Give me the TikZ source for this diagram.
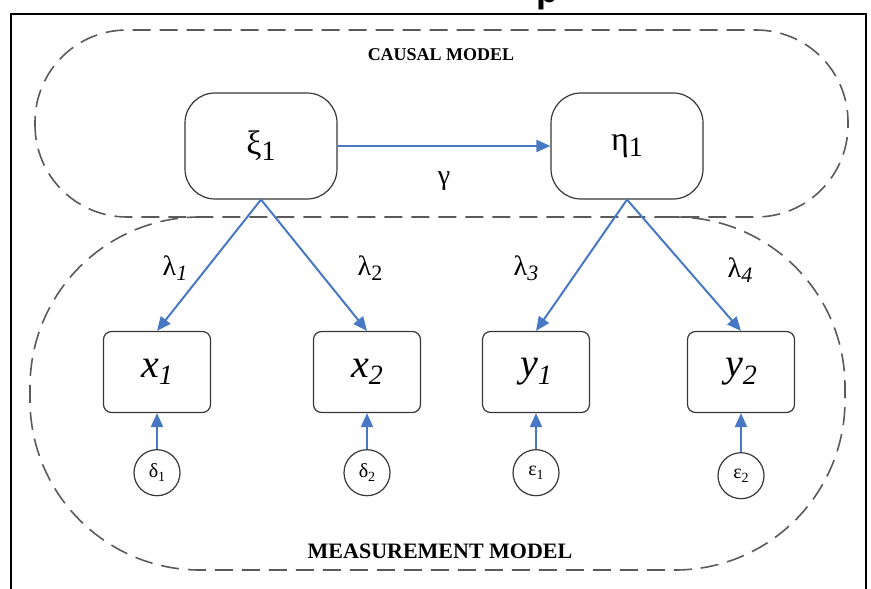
\documentclass[tikz,border=0pt]{standalone}
\usepackage{fontspec}
\setmainfont{Liberation Serif}
\setsansfont{Liberation Sans}
\usetikzlibrary{arrows.meta,positioning}
\definecolor{pathblue}{RGB}{72,120,196}
\definecolor{dashgray}{RGB}{90,90,90}
\definecolor{edgegray}{RGB}{55,55,55}
\newcommand{\idx}[2]{\raisebox{-0.4ex}{\fontsize{#1}{#1}\selectfont #2}}

\begin{document}
\begin{tikzpicture}[x=0.5pt,y=-0.5pt,>=Latex,
  every node/.style={align=center},
  latent/.style={draw=edgegray,line width=0.6pt,rounded corners=15pt,minimum width=76pt,minimum height=53pt,font=\fontsize{17pt}{17pt}\selectfont},
  obs/.style={draw=edgegray,line width=0.6pt,rounded corners=4pt,minimum width=53.5pt,minimum height=40.5pt,font=\fontsize{20pt}{20pt}\selectfont},
  errc/.style={circle,draw=edgegray,line width=0.6pt,minimum size=23pt,inner sep=0pt,font=\fontsize{10pt}{10pt}\selectfont},
  flow/.style={draw=pathblue,line width=1pt,-{Triangle[length=7pt,width=6pt]}},
  region/.style={draw=dashgray,line width=0.8pt,dash pattern=on 9pt off 4.5pt},
  wt/.style={font=\fontsize{14pt}{14pt}\selectfont},
  title/.style={font=\bfseries\fontsize{9pt}{9pt}\selectfont}]
  \useasboundingbox (0,0) rectangle (871,588);
  \node[font=\sffamily\bfseries\fontsize{18pt}{18pt}\selectfont,anchor=base] (cut) at (547,3) {p};
  \draw[line width=1.1pt] (11,600) -- (11,14) -- (866,14) -- (866,600);
  % model regions
  \draw[region,rounded corners=46pt] (35,30) rectangle (848,217);
  \draw[region,rounded corners=85pt] (205,217) -- (30,217) -- (30,570) -- (845,570) -- (845,217) -- (670,217);
  \node[title] (causal) at (441,55) {CAUSAL MODEL};
  \node[title,font=\bfseries\fontsize{11pt}{11pt}\selectfont] (meas) at (440,551) {MEASUREMENT MODEL};
  % latent variables
  \node[latent] (xi) at (261,146) {ξ\idx{14pt}{1}};
  \node[latent] (eta) at (627,146) {η\idx{14pt}{1}};
  % indicators
  \node[obs] (x1) at (157,372) {\textit{x}\idx{14pt}{\textit{1}}};
  \node[obs] (x2) at (367,372) {\textit{x}\idx{14pt}{\textit{2}}};
  \node[obs] (y1) at (536,372) {\textit{y}\idx{14pt}{\textit{1}}};
  \node[obs] (y2) at (741,372) {\textit{y}\idx{14pt}{\textit{2}}};
  % errors
  \node[errc,below=18pt of x1] (d1) {δ\idx{7pt}{1}};
  \node[errc,below=18pt of x2] (d2) {δ\idx{7pt}{2}};
  \node[errc,below=18pt of y1] (e1) {ε\idx{7pt}{1}};
  \node[errc,below=19.5pt of y2] (e2) {ε\idx{7pt}{2}};
  % paths
  \draw[flow] (xi) -- (eta) node[wt,midway,below=9pt] (gamma) {γ};
  \draw[flow] (xi.south) -- (x1.north);
  \draw[flow] (xi.south) -- (x2.north);
  \draw[flow] (eta.south) -- (y1.north);
  \draw[flow] (eta.south) -- (y2.north);
  \node[wt] (l1) at (175,268) {λ\idx{11pt}{\textit{1}}};
  \node[wt] (l2) at (370,268) {λ\idx{11pt}{2}};
  \node[wt] (l3) at (526,268) {λ\idx{11pt}{\textit{3}}};
  \node[wt] (l4) at (740,270) {λ\idx{11pt}{\textit{4}}};
  \draw[flow] (d1) -- (x1);
  \draw[flow] (d2) -- (x2);
  \draw[flow] (e1) -- (y1);
  \draw[flow] (e2) -- (y2);
\end{tikzpicture}
\end{document}
